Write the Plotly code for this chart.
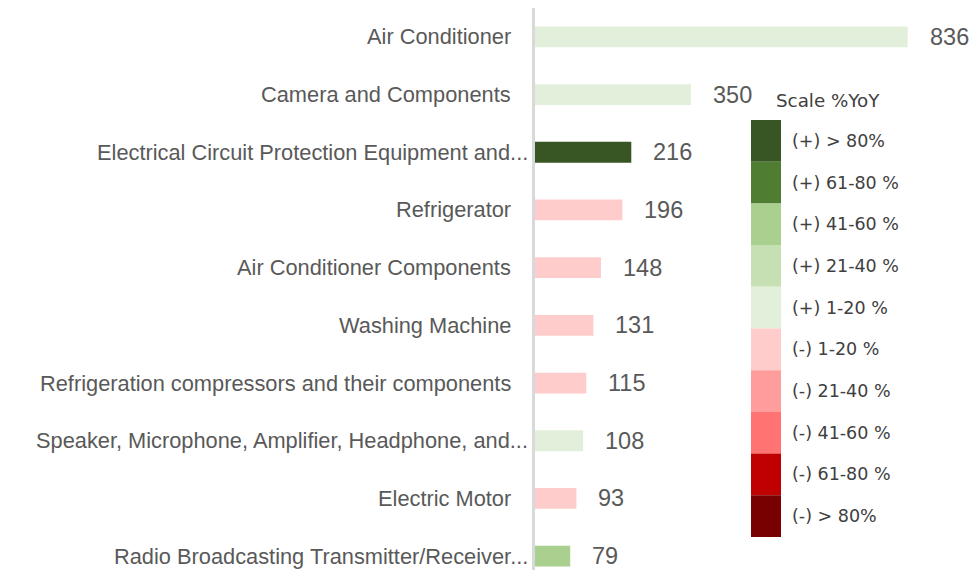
import plotly.graph_objects as go

# Product categories (top to bottom) and their values
categories = [
    "Air Conditioner",
    "Camera and Components",
    "Electrical Circuit Protection Equipment and...",
    "Refrigerator",
    "Air Conditioner Components",
    "Washing Machine",
    "Refrigeration compressors and their components",
    "Speaker, Microphone, Amplifier, Headphone, and...",
    "Electric Motor",
    "Radio Broadcasting Transmitter/Receiver...",
]
values = [836, 350, 216, 196, 148, 131, 115, 108, 93, 79]

# YoY scale bucket of each category (index into scale_labels)
yoy_bucket = [4, 4, 0, 5, 5, 5, 5, 4, 5, 2]

scale_title = "Scale %YoY"
scale_labels = [
    "(+) > 80%", "(+) 61-80 %", "(+) 41-60 %", "(+) 21-40 %", "(+) 1-20 %",
    "(-) 1-20 %", "(-) 21-40 %", "(-) 41-60 %", "(-) 61-80 %", "(-) > 80%",
]
scale_colors = [
    "#375623", "#4f7d32", "#a9d08e", "#c6e0b4", "#e2efda",
    "#ffcccc", "#ff9d9d", "#ff7373", "#c00000", "#780000",
]

bar_colors = [scale_colors[b] for b in yoy_bucket]

LABEL_FONT = "Liberation Sans, Arial, sans-serif"
LEGEND_FONT = "DejaVu Sans, Verdana, sans-serif"
GRAY = "#595959"

fig = go.Figure()
fig.add_trace(go.Bar(
    y=categories,
    x=values,
    orientation="h",
    marker=dict(color=bar_colors, line=dict(width=0)),
    hoverinfo="x+y",
))

# category labels left of the axis; truncated names let their ellipsis
# run closer to the axis line
for cat in categories:
    fig.add_annotation(
        x=0, y=cat, xref="x", yref="y",
        text=cat, showarrow=False,
        xanchor="right", yanchor="middle",
        xshift=-5 if cat.endswith("...") else -22,
        font=dict(family=LABEL_FONT, size=21.8, color=GRAY),
    )

# value labels to the right of each bar
for cat, v in zip(categories, values):
    fig.add_annotation(
        x=v, y=cat, xref="x", yref="y",
        text=str(v), showarrow=False,
        xanchor="left", yanchor="middle", xshift=20,
        font=dict(family=LABEL_FONT, size=23.5, color=GRAY),
    )

# colour scale key
W, H = 976, 570
L, T = 535, 8
key_x0, key_x1 = 751, 781
key_top, key_step = 120, 41.7


def px_x(x):
    return (x - L) / (W - L)


def px_y(y):
    return 1 - (y - T) / (H - T)


for i, (lab, col) in enumerate(zip(scale_labels, scale_colors)):
    y0 = key_top + i * key_step
    y1 = y0 + key_step
    fig.add_shape(
        type="rect", xref="paper", yref="paper",
        x0=px_x(key_x0), x1=px_x(key_x1),
        y0=px_y(y1), y1=px_y(y0),
        fillcolor=col, line=dict(width=0), layer="above",
    )
    fig.add_annotation(
        xref="paper", yref="paper",
        x=px_x(790), y=px_y((y0 + y1) / 2),
        text=lab, showarrow=False, xanchor="left", yanchor="middle",
        font=dict(family=LEGEND_FONT, size=17.5, color="#404040"),
    )
fig.add_annotation(
    xref="paper", yref="paper",
    x=px_x(774), y=px_y(100),
    text=scale_title, showarrow=False, xanchor="left", yanchor="middle",
    font=dict(family=LEGEND_FONT, size=18.3, color="#404040"),
)

n = len(categories)
row_px = 57.7
fig.update_layout(
    width=W, height=H,
    margin=dict(l=L, r=0, t=T, b=0, pad=0),
    plot_bgcolor="white", paper_bgcolor="white",
    showlegend=False,
    bargap=0.64,
    xaxis=dict(
        range=[0, (W - L) / 0.4458],
        showgrid=False, zeroline=False, showticklabels=False,
        showline=False, ticks="", automargin=False,
    ),
    yaxis=dict(
        type="category",
        categoryorder="array", categoryarray=categories,
        range=[(H - T) / row_px - 0.5, -0.5],
        showgrid=False, zeroline=False, showticklabels=False,
        showline=True, linecolor="#d9d9d9", linewidth=3,
        ticks="", automargin=False,
    ),
)

fig.write_html("out.html")
